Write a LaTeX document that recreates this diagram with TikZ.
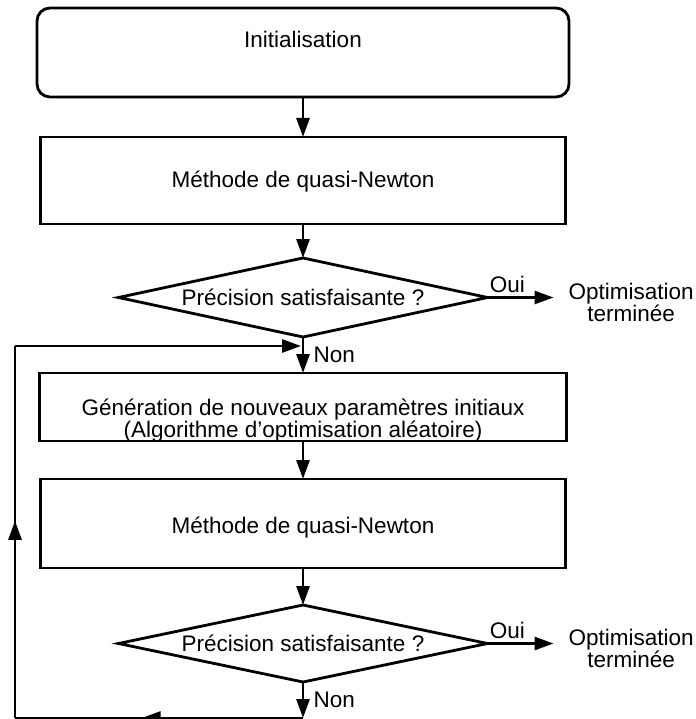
\documentclass[tikz,border=0pt]{standalone}
\usepackage{fontspec}
\setmainfont{Liberation Sans}
\usetikzlibrary{arrows.meta,calc,positioning,shapes.geometric,decorations.markings}

% deux lignes centrees, interligne serre
\newcommand{\genlines}[2]{\vtop{\baselineskip=21.5pt\lineskiplimit=-20pt
  \halign{\hfil##\hfil\cr#1\cr#2\cr}}}

\begin{document}
\begin{tikzpicture}[
    x=1pt, y=-1pt,
    node distance=36pt and 66pt,
    font=\fontsize{22.5}{26}\selectfont,
    box/.style={draw=black, line width=2.8pt, fill=white, minimum width=525pt,
      minimum height=88pt, align=center, inner sep=6pt, outer sep=0pt},
    startbox/.style={box, rounded corners=13pt, minimum width=532pt, minimum height=89pt},
    decision/.style={diamond, draw=black, line width=2.8pt, fill=white, aspect=4.7,
      inner sep=0pt, outer sep=0pt, minimum width=369pt, minimum height=78pt},
    endtext/.style={align=center, inner xsep=15pt, font=\fontsize{22.5}{22}\selectfont},
    arrow/.style={-{Triangle[length=19pt,width=13pt]}, line width=2.8pt},
    rail/.style={line width=2.8pt},
    midarrow/.style={postaction={decorate}, decoration={markings,
      mark=at position #1 with {\arrow{Triangle[length=19pt,width=13pt]}}}}
  ]
  \path[use as bounding box, fill=white] (0,0) rectangle (695,719);

  \node[startbox, text height=16pt, text depth=25pt] (init) at (303,52.5) {Initialisation};
  \node[box, below=40pt of init, minimum height=87pt, text height=20pt, text depth=5pt]
    (newton1) {Méthode de quasi-Newton};
  \node[decision, below=34pt of newton1, minimum height=79pt] (check1) {Précision satisfaisante ?};
  \node[endtext, right=of check1, yshift=-5pt] (done1) {Optimisation\\terminée};

  \node[box, below=of check1, minimum width=527pt, minimum height=68pt,
    text height=23pt, text depth=6pt] (gen)
    {\genlines{Génération de nouveaux paramètres initiaux}{(Algorithme d'optimisation aléatoire)}};
  \node[box, below=38pt of gen, minimum height=89pt, text height=24pt, text depth=4pt]
    (newton2) {Méthode de quasi-Newton};
  \node[decision, below=37pt of newton2, minimum height=77pt] (check2) {Précision satisfaisante ?};
  \node[endtext, right=of check2, yshift=-5pt] (done2) {Optimisation\\terminée};

  % retour vers la generation de nouveaux parametres
  \coordinate (join) at ($(check1.south)!0.25!(gen.north)$);
  \coordinate[below=36pt of check2.south] (loopEnd);
  \coordinate[left=288pt of loopEnd] (railBottom);
  \coordinate (railTop) at (railBottom |- join);

  \draw[arrow] (init) -- (newton1);
  \draw[arrow] (newton1) -- (check1);
  \draw[arrow] (check1.east) -- node[above, pos=0.3] {Oui} (check1.east -| done1.west);
  \draw[arrow] (check1) -- node[right, xshift=6pt] {Non} (gen);
  \draw[arrow] (gen) -- (newton2);
  \draw[arrow] (newton2) -- (check2);
  \draw[arrow] (check2.east) -- node[above, pos=0.3] {Oui} (check2.east -| done2.west);
  \draw[arrow] (check2) -- node[right, xshift=6pt] {Non} (loopEnd);
  \draw[rail, midarrow=0.56] (loopEnd) -- (railBottom);
  \draw[rail, midarrow=0.53] (railBottom) -- (railTop);
  \draw[arrow, shorten >=2pt] (railTop) -- (join);
\end{tikzpicture}
\end{document}
